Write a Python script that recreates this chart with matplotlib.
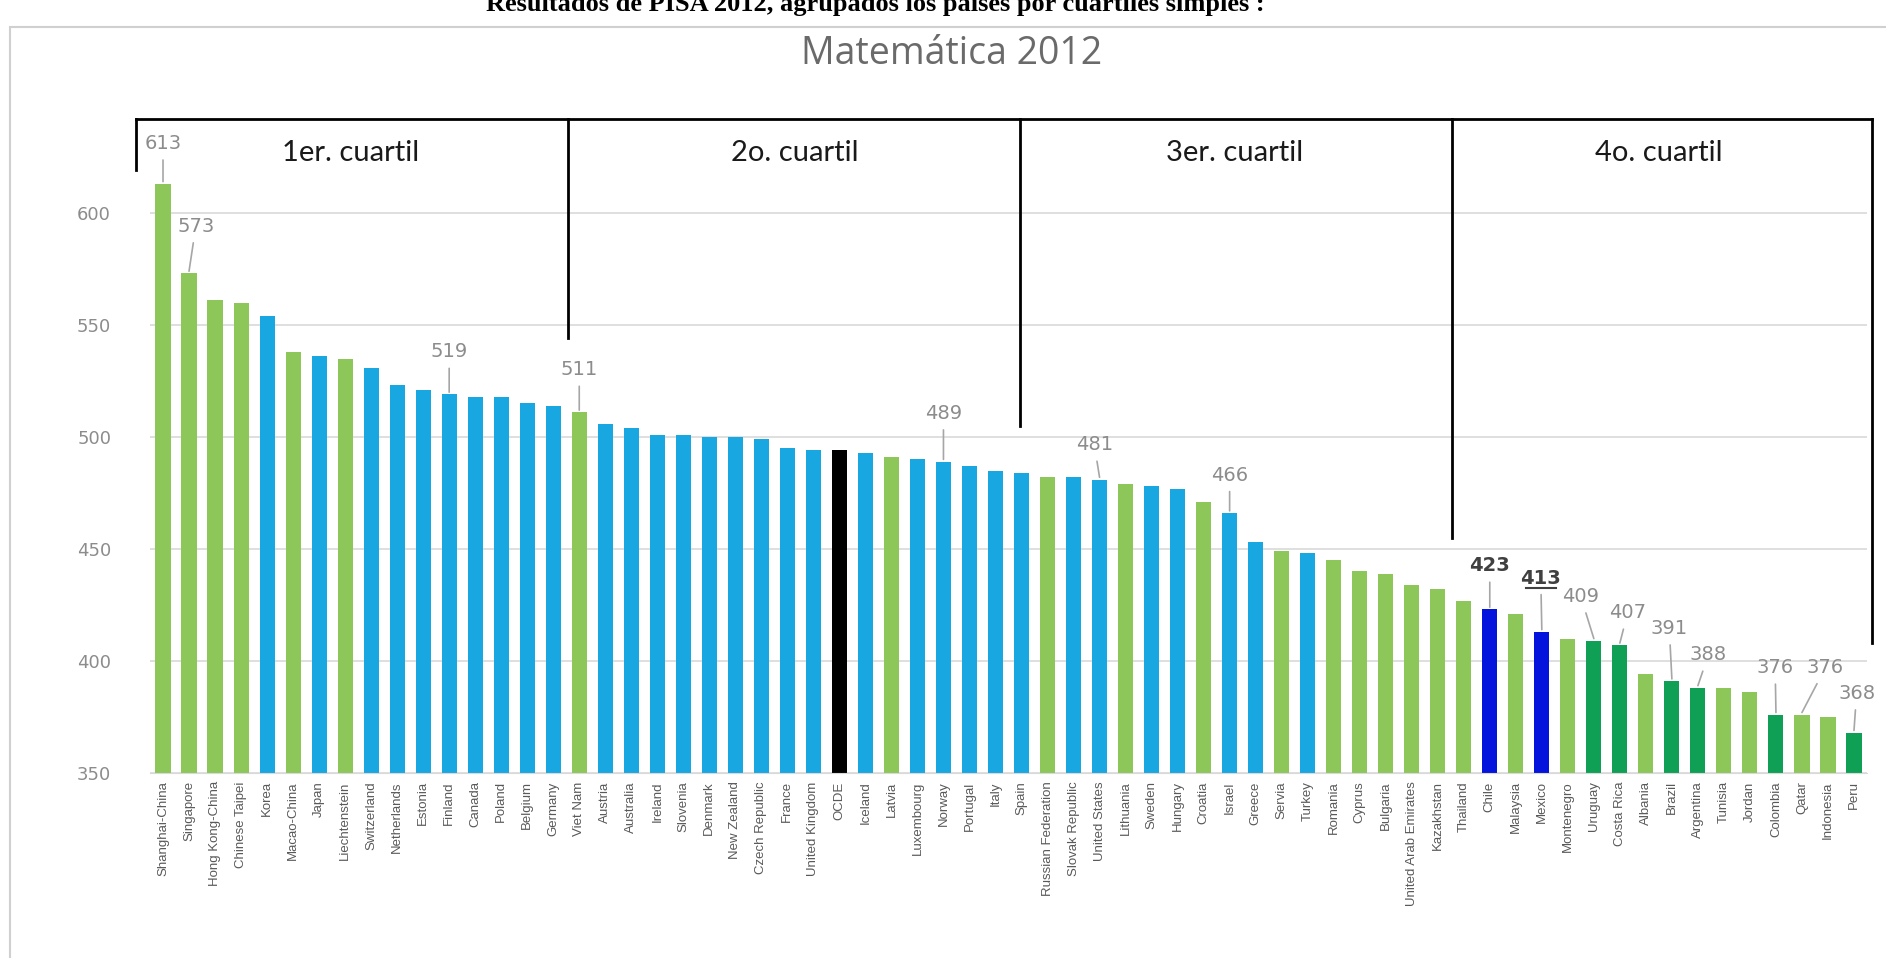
import numpy as np
import matplotlib
matplotlib.use('Agg')
import matplotlib.pyplot as plt
from matplotlib.patches import Rectangle

# datos PISA 2012 - matematica
paises = ['Shanghai-China', 'Singapore', 'Hong Kong-China', 'Chinese Taipei', 'Korea',
          'Macao-China', 'Japan', 'Liechtenstein', 'Switzerland', 'Netherlands',
          'Estonia', 'Finland', 'Canada', 'Poland', 'Belgium', 'Germany', 'Viet Nam',
          'Austria', 'Australia', 'Ireland', 'Slovenia', 'Denmark', 'New Zealand',
          'Czech Republic', 'France', 'United Kingdom', 'OCDE', 'Iceland', 'Latvia',
          'Luxembourg', 'Norway', 'Portugal', 'Italy', 'Spain', 'Russian Federation',
          'Slovak Republic', 'United States', 'Lithuania', 'Sweden', 'Hungary',
          'Croatia', 'Israel', 'Greece', 'Servia', 'Turkey', 'Romania', 'Cyprus',
          'Bulgaria', 'United Arab Emirates', 'Kazakhstan', 'Thailand', 'Chile',
          'Malaysia', 'Mexico', 'Montenegro', 'Uruguay', 'Costa Rica', 'Albania',
          'Brazil', 'Argentina', 'Tunisia', 'Jordan', 'Colombia', 'Qatar',
          'Indonesia', 'Peru']
puntajes = [613, 573, 561, 560, 554, 538, 536, 535, 531, 523, 521, 519, 518, 518, 515,
            514, 511, 506, 504, 501, 501, 500, 500, 499, 495, 494, 494, 493, 491, 490,
            489, 487, 485, 484, 482, 482, 481, 479, 478, 477, 471, 466, 453, 449, 448,
            445, 440, 439, 434, 432, 427, 423, 421, 413, 410, 409, 407, 394, 391, 388,
            388, 386, 376, 376, 375, 368]
# A = asociado, O = OCDE, P = promedio OCDE, OL = OCDE latinoamerica, AL = asociado latinoamerica
grupo = ['A', 'A', 'A', 'A', 'O', 'A', 'O', 'A', 'O', 'O', 'O', 'O', 'O', 'O', 'O',
         'O', 'A', 'O', 'O', 'O', 'O', 'O', 'O', 'O', 'O', 'O', 'P', 'O', 'A', 'O',
         'O', 'O', 'O', 'O', 'A', 'O', 'O', 'A', 'O', 'O', 'A', 'O', 'O', 'A', 'O',
         'A', 'A', 'A', 'A', 'A', 'A', 'OL', 'A', 'OL', 'A', 'AL', 'AL', 'A', 'AL', 'AL',
         'A', 'A', 'AL', 'A', 'A', 'AL']
etiquetados = ['Shanghai-China', 'Singapore', 'Finland', 'Viet Nam', 'Norway',
               'United States', 'Israel', 'Chile', 'Mexico', 'Uruguay', 'Costa Rica',
               'Brazil', 'Argentina', 'Colombia', 'Qatar', 'Peru']
cuartiles = ['1er. cuartil', '2o. cuartil', '3er. cuartil', '4o. cuartil']

colores = {'A': '#8DC759', 'O': '#19A7E2', 'P': '#000000', 'OL': '#0514DC', 'AL': '#0FA055'}

# posicion de cada etiqueta (x, y del texto)
pos_etiq = {'Shanghai-China': (0.0, 631), 'Singapore': (1.26, 594), 'Finland': (11.0, 538),
            'Viet Nam': (16.0, 530), 'Norway': (30.0, 510.5), 'United States': (35.8, 496.5),
            'Israel': (41.0, 483), 'Chile': (51.0, 442.5), 'Mexico': (52.96, 437),
            'Uruguay': (54.5, 428.7), 'Costa Rica': (56.3, 421.5), 'Brazil': (57.9, 414.5),
            'Argentina': (59.4, 402.7), 'Colombia': (61.97, 397), 'Qatar': (63.9, 397),
            'Peru': (65.1, 385.5)}

fig = plt.figure(figsize=(18.86, 9.58), dpi=100)
ax = fig.add_axes([150/1886, 185/958, 1717/1886, 672/958])

x = np.arange(len(paises))
ax.bar(x, puntajes, width=0.58, color=[colores[g] for g in grupo], zorder=2)

ax.set_xlim(-0.5, len(paises) - 0.5)
ax.set_ylim(350, 650)
ax.set_yticks([350, 400, 450, 500, 550, 600])
ax.yaxis.grid(True, color='#d9d9d9', lw=1.2, zorder=0)
ax.tick_params(axis='y', length=0, labelsize=13, labelcolor='#8c8c8c', pad=28)
ax.set_xticks(x)
ax.set_xticklabels(paises, rotation=90, fontsize=9.5, color='#595959',
                   fontfamily='Liberation Sans')
ax.tick_params(axis='x', length=0, pad=6)
for s in ['top', 'right', 'left']:
    ax.spines[s].set_visible(False)
ax.spines['bottom'].set_color('#d9d9d9')

# etiquetas de datos con lineas guia
for p in etiquetados:
    i = paises.index(p)
    tx, ty = pos_etiq[p]
    oscuro = p in ('Chile', 'Mexico')
    ax.annotate(str(puntajes[i]), xy=(i, puntajes[i] + 1), xytext=(tx, ty),
                textcoords='data', ha='center', va='center', fontsize=14,
                color='#404040' if oscuro else '#8c8c8c',
                fontweight='bold' if oscuro else 'normal',
                arrowprops=dict(arrowstyle='-', color='#a6a6a6', lw=1.2,
                                shrinkA=3, shrinkB=0), zorder=3)
# subrayado de Mexico
ax.plot([52.4, 53.55], [432.6, 432.6], color='#404040', lw=1.5, zorder=3)

# llaves de cuartiles
y_top = 642
ax.plot([-1.05, 65.7], [y_top, y_top], color='black', lw=2, clip_on=False)
divs = [(-1.05, 619), (15.55, 544), (32.95, 505), (49.55, 455), (65.7, 408)]
for dx, yb in divs:
    ax.plot([dx, dx], [y_top, yb], color='black', lw=2, clip_on=False)
cx = [7.2, 24.3, 41.2, 57.5]
for c, t in zip(cx, cuartiles):
    ax.text(c, 627, t, ha='center', va='center', fontsize=21, color='#1a1a1a',
            fontfamily='Lato')

fig.text(952/1886, 1 - 54/958, 'Matemática 2012', ha='center', va='center',
         fontsize=27, color='#6a6a6a', fontfamily='Open Sans')
fig.text(875/1886, 1 - 11/958,
         'Resultados de PISA 2012, agrupados los países por cuartiles simples :',
         ha='center', va='baseline', fontsize=19, fontweight='bold',
         fontfamily='Liberation Serif', color='black')

fig.patches.append(Rectangle((10/1886, -0.1), 2, 1.1 - 27/958, transform=fig.transFigure,
                             fill=False, edgecolor='#d0d0d0', lw=1.5))

fig.savefig('out.png', dpi=100)
